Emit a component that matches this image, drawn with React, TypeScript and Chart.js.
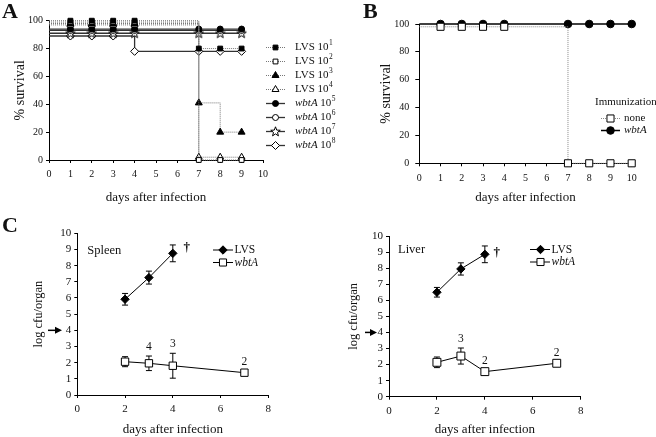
import React, { useEffect, useRef } from 'react';
import { Chart, registerables } from 'chart.js';

Chart.register(...registerables);

const FONT = "'Liberation Serif', 'Times New Roman', Times, serif";
const INK = '#111';
const CW = 656;
const CH = 437;

// ---------------- Panel A: survival after challenge ----------------
const daysA = [0, 1, 2, 3, 4, 7, 8, 9];
const survLVS1 = [100, 100, 100, 100, 100, 80, 80, 80];
const survLVS2 = [99, 99, 99, 99, 99, 0, 0, 0];
const survLVS3 = [98, 98, 98, 98, 98, 41, 20, 20];
const survLVS4 = [97, 97, 97, 97, 97, 2, 2, 2];
const survWbt5 = [94, 94, 94, 94, 94, 94, 94, 94];
const survWbt6 = [93, 93, 93, 93, 93, 93, 93, 93];
const survWbt7 = [91, 91, 91, 91, 91, 91, 91, 91];
const survWbt8 = [89, 89, 89, 89, 78, 78, 78, 78];
const strainsA = ['LVS', 'LVS', 'LVS', 'LVS', 'wbtA', 'wbtA', 'wbtA', 'wbtA'];
const dosesA = ['1', '2', '3', '4', '5', '6', '7', '8'];

// ---------------- Panel B: survival of immunized mice ----------------
const daysB = [0, 1, 2, 3, 4, 7, 8, 9, 10];
const survNone = [98, 98, 98, 98, 98, 0, 0, 0, 0];
const survImmWbt = [100, 100, 100, 100, 100, 100, 100, 100, 100];
const groupsB = ['none', 'wbtA'];

// ---------------- Panel C: bacterial burden ----------------
const daysLVS = [2, 3, 4];
const daysWbt = [2, 3, 4, 7];
const spleenLVS = [5.92, 7.26, 8.76];
const spleenLVSErr = [0.36, 0.4, 0.52];
const spleenWbt = [2.06, 1.96, 1.81, 1.38];
const spleenWbtErr = [0.31, 0.45, 0.77, 0.12];
const spleenCounts = ['', '4', '3', '2'];
const liverLVS = [6.5, 7.95, 8.86];
const liverLVSErr = [0.3, 0.38, 0.52];
const liverWbt = [2.14, 2.53, 1.56, 2.08];
const liverWbtErr = [0.33, 0.5, 0.1, 0.1];
const liverCounts = ['', '3', '2', '2'];
const detectionLimit = 4;
const spleenDagger = { x: 4.58, y: 9.1 };
const liverDagger = { x: 4.5, y: 8.94 };

// ---------------- helpers ----------------
let starCanvas: HTMLCanvasElement | null = null;
function getStar(): HTMLCanvasElement {
  if (starCanvas) return starCanvas;
  const c = document.createElement('canvas');
  c.width = 11;
  c.height = 11;
  const g = c.getContext('2d')!;
  const cx = 5.5, cy = 5.8, R = 5, r = 2.1;
  g.beginPath();
  for (let i = 0; i < 10; i++) {
    const a = -Math.PI / 2 + (i * Math.PI) / 5;
    const rr = i % 2 === 0 ? R : r;
    const px = cx + Math.cos(a) * rr;
    const py = cy + Math.sin(a) * rr;
    if (i === 0) g.moveTo(px, py); else g.lineTo(px, py);
  }
  g.closePath();
  g.fillStyle = '#fff';
  g.fill();
  g.lineWidth = 1;
  g.strokeStyle = '#000';
  g.stroke();
  starCanvas = c;
  return c;
}

function drawMarker(ctx: CanvasRenderingContext2D, style: any, x: number, y: number, r: number, fill: string) {
  ctx.save();
  if (typeof style !== 'string') {
    ctx.drawImage(style, x - style.width / 2, y - style.height / 2);
    ctx.restore();
    return;
  }
  ctx.beginPath();
  ctx.lineWidth = 1;
  ctx.strokeStyle = '#000';
  ctx.fillStyle = fill;
  if (style === 'rect') {
    const s = r * Math.SQRT1_2;
    ctx.rect(x - s, y - s, 2 * s, 2 * s);
  } else if (style === 'circle') {
    ctx.arc(x, y, r, 0, Math.PI * 2);
  } else if (style === 'triangle') {
    for (let i = 0; i < 3; i++) {
      const a = (i * 2 * Math.PI) / 3;
      const px = x + Math.sin(a) * r;
      const py = y - Math.cos(a) * r;
      if (i === 0) ctx.moveTo(px, py); else ctx.lineTo(px, py);
    }
    ctx.closePath();
  } else if (style === 'rectRot') {
    ctx.moveTo(x, y - r);
    ctx.lineTo(x + r, y);
    ctx.lineTo(x, y + r);
    ctx.lineTo(x - r, y);
    ctx.closePath();
  }
  ctx.fill();
  ctx.stroke();
  ctx.restore();
}

function text(ctx: CanvasRenderingContext2D, s: string, x: number, y: number, size: number, opts: any = {}) {
  ctx.save();
  ctx.font = `${opts.italic ? 'italic ' : ''}${opts.bold ? 'bold ' : ''}${size}px ${FONT}`;
  ctx.fillStyle = INK;
  ctx.textAlign = opts.align || 'left';
  ctx.textBaseline = 'middle';
  ctx.fillText(s, x, y);
  const w = ctx.measureText(s).width;
  ctx.restore();
  return w;
}

function legendLine(ctx: CanvasRenderingContext2D, x0: number, x1: number, y: number, color: string, dash: number[], width: number) {
  ctx.save();
  ctx.beginPath();
  ctx.strokeStyle = color;
  ctx.lineWidth = width;
  ctx.setLineDash(dash);
  ctx.moveTo(x0, y);
  ctx.lineTo(x1, y);
  ctx.stroke();
  ctx.restore();
}

type Area = { l: number; t: number; r: number; b: number };

function baseOptions(area: Area, wy: number, hx: number) {
  return {
    responsive: false,
    animation: false,
    devicePixelRatio: 1,
    events: [],
    layout: {
      padding: { left: area.l - wy, top: area.t, right: CW - area.r, bottom: CH - area.b - hx },
    },
    plugins: { legend: { display: false }, tooltip: { enabled: false }, title: { display: false } },
  };
}

function makeScales(p: any) {
  return {
    x: {
      type: 'linear',
      position: 'bottom',
      min: p.xMin,
      max: p.xMax,
      ticks: { stepSize: p.xStep, autoSkip: false, maxRotation: 0, color: INK, padding: p.xTickPad, font: { family: FONT, size: p.tickSize } },
      grid: { display: true, drawOnChartArea: false, drawTicks: true, tickLength: p.xTickLen, color: '#000', lineWidth: 1 },
      border: { display: true, color: '#000', width: 1 },
      title: { display: true, text: 'days after infection', color: INK, padding: 0, font: { family: FONT, size: 13, lineHeight: 1 } },
      afterFit: (s: any) => { s.height = p.hx; },
    },
    y: {
      type: 'linear',
      position: 'left',
      min: p.yMin,
      max: p.yMax,
      ticks: { stepSize: p.yStep, autoSkip: false, color: INK, padding: p.yTickPad, font: { family: FONT, size: p.tickSize } },
      grid: { display: true, drawOnChartArea: false, drawTicks: true, tickLength: p.yTickLen, color: '#000', lineWidth: 1 },
      border: { display: true, color: '#000', width: 1 },
      title: { display: true, text: p.yTitle, color: INK, padding: 0, font: { family: FONT, size: p.yTitleSize, lineHeight: 1 } },
      afterFit: (s: any) => { s.width = p.wy; },
    },
  };
}

function pts(days: number[], vals: number[]) {
  return days.map((d, i) => ({ x: d, y: vals[i] }));
}

// ---------------- Panel A ----------------
function configA(): any {
  const area = { l: 49, t: 20.7, r: 263, b: 160 };
  const wy = 36, hx = 44.5;
  const star = getStar();
  const series = [survLVS1, survLVS2, survLVS3, survLVS4, survWbt5, survWbt6, survWbt7, survWbt8];
  const styles: any[] = ['rect', 'rect', 'triangle', 'triangle', 'circle', 'circle', star, 'rectRot'];
  const fills = ['#000', '#fff', '#000', '#fff', '#000', '#fff', '#fff', '#fff'];
  const radii = [3.4, 3.4, 4, 4, 3, 3, 4, 4];
  const datasets = series.map((vals, i) => {
    const dotted = strainsA[i] === 'LVS';
    return {
      label: `${strainsA[i]} 10${dosesA[i]}`,
      data: pts(daysA, vals),
      stepped: true,
      borderColor: dotted ? '#777' : '#333',
      borderWidth: dotted ? 1 : 1.3,
      borderDash: dotted ? [1, 1] : [],
      pointStyle: styles[i],
      pointRadius: daysA.map((d) => (d === 0 ? 0 : radii[i])),
      pointBackgroundColor: fills[i],
      pointBorderColor: '#000',
      pointBorderWidth: 1,
      clip: false,
      legendR: radii[i],
    };
  });
  return {
    type: 'line',
    data: { datasets },
    options: {
      ...baseOptions(area, wy, hx),
      scales: makeScales({ xMin: 0, xMax: 10, xStep: 1, yMin: 0, yMax: 100, yStep: 20, wy, hx, tickSize: 10, xTickLen: 3, xTickPad: 5, yTickLen: 3, yTickPad: 3, yTitle: '% survival', yTitleSize: 14 }),
    },
    plugins: [
      {
        id: 'extrasA',
        afterDraw(chart: any) {
          const ctx = chart.ctx;
          text(ctx, 'A', 2, 12, 22, { bold: true });
          chart.data.datasets.forEach((ds: any, i: number) => {
            const y = 47.5 + i * 14;
            legendLine(ctx, 266, 285, y, ds.borderColor, ds.borderDash, ds.borderWidth);
            drawMarker(ctx, ds.pointStyle, 275.5, y, ds.legendR, ds.pointBackgroundColor);
            let x = 295;
            x += text(ctx, strainsA[i], x, y, 11, { italic: strainsA[i] !== 'LVS' });
            x += text(ctx, ' 10', x, y, 11);
            text(ctx, dosesA[i], x + 0.5, y - 4, 7.5);
          });
        },
      },
    ],
  };
}

// ---------------- Panel B ----------------
function configB(): any {
  const area = { l: 419.3, t: 24, r: 631.7, b: 163.3 };
  const wy = 39.6, hx = 40.5;
  const datasets = [
    {
      label: groupsB[0],
      data: pts(daysB, survNone),
      stepped: true,
      borderColor: '#888',
      borderWidth: 1,
      borderDash: [1, 1],
      pointStyle: 'rect',
      pointRadius: daysB.map((d) => (d === 0 ? 0 : 5)),
      pointBackgroundColor: '#fff',
      pointBorderColor: '#000',
      pointBorderWidth: 1,
      clip: false,
      legendR: 5,
    },
    {
      label: groupsB[1],
      data: pts(daysB, survImmWbt),
      stepped: true,
      borderColor: '#000',
      borderWidth: 1.5,
      borderDash: [],
      pointStyle: 'circle',
      pointRadius: daysB.map((d) => (d === 0 ? 0 : 3.8)),
      pointBackgroundColor: '#000',
      pointBorderColor: '#000',
      pointBorderWidth: 1,
      clip: false,
      legendR: 3.8,
    },
  ];
  return {
    type: 'line',
    data: { datasets },
    options: {
      ...baseOptions(area, wy, hx),
      scales: makeScales({ xMin: 0, xMax: 10, xStep: 1, yMin: 0, yMax: 100, yStep: 20, wy, hx, tickSize: 10, xTickLen: 3, xTickPad: 6, yTickLen: 4, yTickPad: 6, yTitle: '% survival', yTitleSize: 14 }),
    },
    plugins: [
      {
        id: 'extrasB',
        afterDraw(chart: any) {
          const ctx = chart.ctx;
          text(ctx, 'B', 363, 12, 22, { bold: true });
          text(ctx, 'Immunization', 595, 102, 11);
          chart.data.datasets.forEach((ds: any, i: number) => {
            const y = 118.5 + i * 12;
            legendLine(ctx, 601, 620, y, ds.borderColor, ds.borderDash, ds.borderWidth);
            drawMarker(ctx, ds.pointStyle, 610.5, y, ds.legendR, ds.pointBackgroundColor);
            text(ctx, ds.label, 624, y, 11, { italic: ds.label !== 'none' });
          });
        },
      },
    ],
  };
}

// ---------------- Panel C ----------------
function configC(p: any): any {
  const datasets = [
    {
      label: 'LVS',
      data: pts(daysLVS, p.lvs),
      errors: p.lvsErr,
      borderColor: '#000',
      borderWidth: 1,
      pointStyle: 'rectRot',
      pointRadius: 4.2,
      pointBackgroundColor: '#000',
      pointBorderColor: '#000',
      pointBorderWidth: 1,
      clip: false,
    },
    {
      label: 'wbtA',
      data: pts(daysWbt, p.wbt),
      errors: p.wbtErr,
      borderColor: '#000',
      borderWidth: 1,
      pointStyle: 'rect',
      pointRadius: p.sq,
      pointBackgroundColor: '#fff',
      pointBorderColor: '#000',
      pointBorderWidth: 1,
      clip: false,
    },
  ];
  return {
    type: 'line',
    data: { datasets },
    options: {
      ...baseOptions(p.area, p.wy, p.hx),
      scales: makeScales({ xMin: 0, xMax: 8, xStep: 2, yMin: 0, yMax: 10, yStep: 1, wy: p.wy, hx: p.hx, tickSize: 11, xTickLen: 3, xTickPad: 4.5, yTickLen: 3, yTickPad: 3, yTitle: 'log cfu/organ', yTitleSize: 12.5 }),
    },
    plugins: [
      {
        id: 'extrasC',
        beforeDatasetsDraw(chart: any) {
          const ctx = chart.ctx;
          const xs = chart.scales.x, ys = chart.scales.y;
          ctx.save();
          ctx.strokeStyle = '#000';
          ctx.lineWidth = 1;
          chart.data.datasets.forEach((ds: any) => {
            ds.data.forEach((pt: any, j: number) => {
              const e = ds.errors[j];
              const x = xs.getPixelForValue(pt.x);
              const y1 = ys.getPixelForValue(pt.y + e);
              const y2 = ys.getPixelForValue(pt.y - e);
              ctx.beginPath();
              ctx.moveTo(x, y1); ctx.lineTo(x, y2);
              ctx.moveTo(x - 3, y1); ctx.lineTo(x + 3, y1);
              ctx.moveTo(x - 3, y2); ctx.lineTo(x + 3, y2);
              ctx.stroke();
            });
          });
          ctx.restore();
        },
        afterDraw(chart: any) {
          const ctx = chart.ctx;
          const xs = chart.scales.x, ys = chart.scales.y;
          if (p.letter) text(ctx, p.letter, 2, 226, 22, { bold: true });
          text(ctx, p.organ, p.organX, p.organY, 12.5);
          // legend
          const L = p.legend;
          chart.data.datasets.forEach((ds: any, i: number) => {
            const y = L.y + i * 12.5;
            legendLine(ctx, L.x0, L.x1, y, '#000', [], 1);
            drawMarker(ctx, ds.pointStyle, L.m, y, i === 0 ? 4.2 : 5, ds.pointBackgroundColor);
            text(ctx, ds.label, L.x1 + 1.5, y, 11.5, { italic: ds.label !== 'LVS' });
          });
          // n labels above the wbtA points
          const wds = chart.data.datasets[1];
          wds.data.forEach((pt: any, j: number) => {
            const c = p.counts[j];
            if (!c) return;
            const yTop = ys.getPixelForValue(pt.y + wds.errors[j]);
            text(ctx, c, xs.getPixelForValue(pt.x), yTop - 9, 11.5, { align: 'center' });
          });
          // dagger after last LVS point
          text(ctx, '\u2020', xs.getPixelForValue(p.dagger.x), ys.getPixelForValue(p.dagger.y), 13, { align: 'center', bold: true });
          // detection-limit arrow
          const ya = ys.getPixelForValue(detectionLimit);
          ctx.save();
          ctx.strokeStyle = '#000';
          ctx.fillStyle = '#000';
          ctx.lineWidth = 1.5;
          ctx.beginPath();
          ctx.moveTo(p.arrow[0], ya);
          ctx.lineTo(p.arrow[1] - 5, ya);
          ctx.stroke();
          ctx.beginPath();
          ctx.moveTo(p.arrow[1], ya);
          ctx.lineTo(p.arrow[1] - 7, ya - 3.5);
          ctx.lineTo(p.arrow[1] - 7, ya + 3.5);
          ctx.closePath();
          ctx.fill();
          ctx.restore();
        },
      },
    ],
  };
}

function configSpleen() {
  return configC({
    area: { l: 77.3, t: 233.3, r: 268.3, b: 395 },
    wy: 45.25,
    hx: 40.8,
    lvs: spleenLVS,
    lvsErr: spleenLVSErr,
    wbt: spleenWbt,
    wbtErr: spleenWbtErr,
    counts: spleenCounts,
    sq: 5.2,
    letter: 'C',
    organ: 'Spleen',
    organX: 87.3,
    organY: 250.7,
    legend: { y: 250, x0: 213, x1: 233, m: 223 },
    dagger: spleenDagger,
    arrow: [48, 62],
  });
}

function configLiver() {
  return configC({
    area: { l: 389, t: 236, r: 580.7, b: 396.7 },
    wy: 41.95,
    hx: 39.1,
    lvs: liverLVS,
    lvsErr: liverLVSErr,
    wbt: liverWbt,
    wbtErr: liverWbtErr,
    counts: liverCounts,
    sq: 5.6,
    letter: '',
    organ: 'Liver',
    organX: 398,
    organY: 250,
    legend: { y: 249.5, x0: 530, x1: 550, m: 540.5 },
    dagger: liverDagger,
    arrow: [365, 377],
  });
}

export default function App() {
  const r1 = useRef<HTMLCanvasElement>(null);
  const r2 = useRef<HTMLCanvasElement>(null);
  const r3 = useRef<HTMLCanvasElement>(null);
  const r4 = useRef<HTMLCanvasElement>(null);
  const refs = [r1, r2, r3, r4];

  useEffect(() => {
    const configs = [configA(), configB(), configSpleen(), configLiver()];
    const charts = configs.map((cfg, i) => new Chart(refs[i].current as HTMLCanvasElement, cfg));
    return () => charts.forEach((c) => c.destroy());
  }, []);

  return (
    <div style={{ position: 'fixed', left: 0, top: 0, width: CW, height: CH, background: '#fff', overflow: 'hidden' }}>
      {refs.map((r, i) => (
        <canvas
          key={i}
          ref={r}
          width={CW}
          height={CH}
          style={{ position: 'absolute', left: 0, top: 0, width: CW, height: CH }}
        />
      ))}
    </div>
  );
}
